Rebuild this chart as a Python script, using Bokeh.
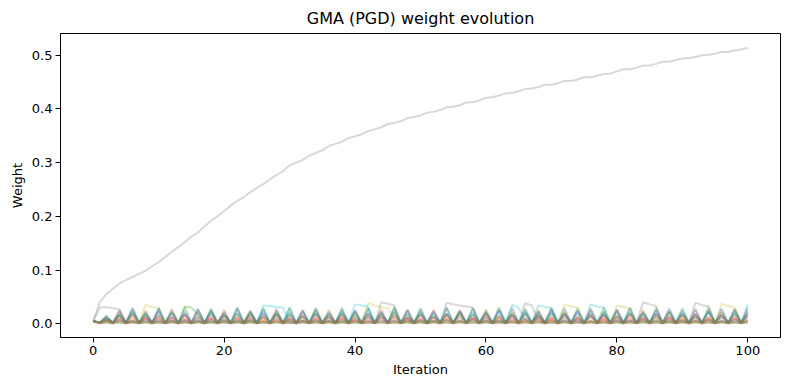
from bokeh.plotting import figure
from bokeh.models import FixedTicker, NumeralTickFormatter, Range1d
from bokeh.embed import file_html
from bokeh.resources import INLINE

iterations = list(range(101))

# climbing asset (gray)
w_gray_main = [
    .005, .040, .055, .065, .075, .081, .087, .093, .099, .107,
    .115, .124, .134, .143, .152, .162, .170, .181, .192, .200,
    .210, .220, .229, .236, .245, .253, .260, .269, .277, .284,
    .295, .300, .305, .313, .318, .323, .331, .335, .339, .346,
    .349, .353, .359, .362, .366, .372, .374, .377, .383, .385,
    .388, .393, .395, .398, .403, .404, .407, .412, .413, .416,
    .421, .422, .425, .429, .430, .433, .437, .438, .441, .445,
    .445, .448, .452, .452, .455, .459, .459, .462, .465, .466,
    .470, .474, .474, .477, .481, .481, .484, .488, .488, .491,
    .494, .495, .497, .500, .501, .503, .506, .506, .509, .511,
    .514]

w_blue = [
    .005, .002, .012, .002, .020, .002, .021, .002, .019, .002,
    .022, .002, .020, .002, .018, .002, .021, .002, .023, .002,
    .020, .002, .019, .002, .022, .002, .020, .002, .018, .002,
    .021, .002, .023, .002, .019, .002, .020, .002, .022, .002,
    .018, .002, .021, .002, .020, .002, .023, .002, .019, .002,
    .021, .002, .020, .002, .018, .002, .022, .002, .021, .002,
    .019, .002, .023, .002, .020, .002, .018, .002, .022, .002,
    .021, .002, .019, .002, .020, .002, .023, .002, .018, .002,
    .022, .002, .020, .002, .021, .002, .019, .002, .023, .002,
    .020, .002, .018, .002, .022, .002, .021, .002, .019, .002,
    .022]

w_orange = [
    .005, .001, .010, .001, .026, .001, .012, .001, .024, .001,
    .011, .001, .027, .001, .013, .001, .025, .001, .010, .001,
    .026, .001, .012, .001, .024, .001, .011, .001, .027, .001,
    .013, .001, .025, .001, .010, .001, .026, .001, .012, .001,
    .024, .001, .011, .001, .027, .001, .013, .001, .025, .001,
    .010, .001, .026, .001, .012, .001, .024, .001, .011, .001,
    .027, .001, .013, .001, .025, .001, .010, .001, .026, .001,
    .012, .001, .024, .001, .011, .001, .027, .001, .013, .001,
    .025, .001, .010, .001, .026, .001, .012, .001, .024, .001,
    .011, .001, .027, .001, .013, .001, .025, .001, .010, .001,
    .026]

w_green = [
    .005, .002, .015, .002, .014, .002, .030, .002, .013, .002,
    .029, .002, .012, .002, .031, .002, .014, .002, .028, .002,
    .013, .002, .030, .002, .012, .002, .029, .002, .014, .002,
    .031, .002, .013, .002, .028, .002, .012, .002, .030, .002,
    .014, .002, .029, .002, .013, .002, .031, .002, .012, .002,
    .028, .002, .014, .002, .030, .002, .013, .002, .029, .002,
    .012, .002, .031, .002, .014, .002, .028, .002, .013, .002,
    .030, .002, .012, .002, .029, .002, .014, .002, .031, .002,
    .013, .002, .028, .002, .012, .002, .030, .002, .014, .002,
    .029, .002, .013, .002, .031, .002, .012, .002, .028, .002,
    .014]

w_red = [
    .005, .001, .008, .001, .015, .001, .017, .001, .011, .001,
    .016, .001, .012, .001, .018, .001, .010, .001, .015, .001,
    .017, .001, .011, .001, .016, .001, .013, .001, .018, .001,
    .010, .001, .015, .001, .017, .001, .012, .001, .016, .001,
    .011, .001, .018, .001, .014, .001, .015, .001, .010, .001,
    .017, .001, .012, .001, .016, .001, .018, .001, .011, .001,
    .015, .001, .013, .001, .017, .001, .010, .001, .016, .001,
    .012, .001, .018, .001, .011, .001, .015, .001, .017, .001,
    .013, .001, .016, .001, .010, .001, .018, .001, .012, .001,
    .015, .001, .017, .001, .011, .001, .016, .001, .014, .001,
    .018]

w_purple = [
    .005, .002, .010, .002, .018, .002, .025, .002, .016, .002,
    .024, .002, .019, .002, .017, .002, .026, .002, .020, .002,
    .016, .002, .025, .002, .018, .002, .021, .002, .026, .002,
    .017, .002, .020, .002, .024, .002, .016, .002, .019, .002,
    .025, .002, .017, .002, .021, .002, .018, .002, .026, .002,
    .016, .002, .024, .002, .019, .002, .025, .002, .017, .002,
    .020, .002, .026, .002, .016, .002, .021, .002, .018, .002,
    .025, .002, .017, .002, .024, .002, .019, .002, .016, .002,
    .026, .002, .020, .002, .018, .002, .025, .002, .021, .002,
    .017, .002, .019, .002, .026, .002, .016, .002, .024, .002,
    .020]

w_pink = [
    .005, .001, .007, .001, .010, .001, .008, .001, .012, .001,
    .009, .001, .011, .001, .007, .001, .012, .001, .010, .001,
    .008, .001, .011, .001, .009, .001, .012, .001, .007, .001,
    .010, .001, .008, .001, .012, .001, .009, .001, .011, .001,
    .007, .001, .010, .001, .012, .001, .008, .001, .011, .001,
    .009, .001, .012, .001, .007, .001, .010, .001, .008, .001,
    .011, .001, .009, .001, .012, .001, .007, .001, .010, .001,
    .008, .001, .011, .001, .009, .001, .012, .001, .007, .001,
    .010, .001, .008, .001, .011, .001, .009, .001, .012, .001,
    .007, .001, .010, .001, .008, .001, .011, .001, .009, .001,
    .012]

w_olive = [
    .005, .002, .006, .002, .007, .002, .006, .002, .035, .031,
    .029, .002, .006, .002, .007, .002, .006, .002, .007, .002,
    .006, .002, .007, .002, .006, .002, .007, .002, .006, .002,
    .007, .002, .006, .002, .007, .002, .006, .002, .007, .002,
    .006, .002, .038, .034, .031, .029, .007, .002, .006, .002,
    .007, .002, .006, .002, .007, .002, .006, .002, .007, .002,
    .006, .002, .007, .002, .006, .002, .007, .002, .006, .002,
    .007, .002, .036, .032, .030, .002, .006, .002, .007, .002,
    .034, .031, .029, .002, .006, .002, .007, .002, .006, .002,
    .007, .002, .006, .002, .007, .002, .037, .033, .030, .002,
    .006]

w_cyan = [
    .005, .002, .005, .002, .006, .002, .005, .002, .006, .002,
    .005, .002, .006, .002, .005, .002, .006, .002, .005, .002,
    .006, .002, .005, .002, .006, .002, .034, .033, .031, .030,
    .002, .002, .005, .002, .006, .002, .005, .002, .006, .002,
    .036, .034, .032, .002, .005, .002, .006, .002, .005, .002,
    .006, .002, .005, .002, .006, .002, .005, .002, .006, .002,
    .005, .002, .006, .002, .035, .030, .006, .002, .034, .031,
    .029, .002, .006, .002, .005, .002, .036, .032, .030, .002,
    .005, .002, .006, .002, .005, .002, .006, .002, .005, .002,
    .006, .002, .005, .002, .006, .002, .005, .002, .006, .002,
    .036]

w_blue2 = [
    .005, .002, .014, .002, .024, .002, .027, .002, .022, .002,
    .029, .002, .025, .002, .023, .002, .028, .002, .026, .002,
    .022, .002, .030, .002, .024, .002, .027, .002, .023, .002,
    .028, .002, .025, .002, .029, .002, .022, .002, .026, .002,
    .024, .002, .028, .002, .023, .002, .030, .002, .025, .002,
    .027, .002, .022, .002, .029, .002, .024, .002, .028, .002,
    .023, .002, .026, .002, .030, .002, .025, .002, .022, .002,
    .027, .002, .029, .002, .024, .002, .028, .002, .023, .002,
    .026, .002, .030, .002, .022, .002, .025, .002, .029, .002,
    .024, .002, .027, .002, .023, .002, .028, .002, .026, .002,
    .030]

w_green2 = [
    .005, .001, .009, .001, .016, .001, .020, .001, .018, .001,
    .014, .001, .021, .001, .032, .030, .017, .001, .022, .001,
    .015, .001, .019, .001, .021, .001, .016, .001, .020, .001,
    .018, .001, .014, .001, .022, .001, .017, .001, .019, .001,
    .021, .001, .015, .001, .018, .001, .022, .001, .016, .001,
    .020, .001, .014, .001, .019, .001, .021, .001, .017, .001,
    .022, .001, .016, .001, .018, .001, .020, .001, .015, .001,
    .019, .001, .021, .001, .014, .001, .017, .001, .022, .001,
    .016, .001, .020, .001, .018, .001, .015, .001, .021, .001,
    .019, .001, .014, .001, .022, .001, .017, .001, .020, .001,
    .016]

w_red2 = [
    .005, .001, .006, .001, .008, .001, .005, .001, .009, .001,
    .007, .001, .006, .001, .008, .001, .005, .001, .009, .001,
    .007, .001, .006, .001, .008, .001, .005, .001, .009, .001,
    .007, .001, .006, .001, .008, .001, .005, .001, .009, .001,
    .007, .001, .006, .001, .008, .001, .005, .001, .009, .001,
    .007, .001, .006, .001, .008, .001, .005, .001, .009, .001,
    .007, .001, .006, .001, .008, .001, .005, .001, .009, .001,
    .007, .001, .006, .001, .008, .001, .005, .001, .009, .001,
    .007, .001, .006, .001, .008, .001, .005, .001, .009, .001,
    .007, .001, .006, .001, .008, .001, .005, .001, .009, .001,
    .007]

w_gray2 = [
    .005, .030, .031, .029, .027, .001, .004, .001, .004, .001,
    .004, .001, .004, .001, .004, .001, .004, .001, .004, .001,
    .004, .001, .004, .001, .004, .001, .004, .001, .004, .001,
    .004, .001, .004, .001, .004, .001, .004, .001, .004, .001,
    .004, .001, .004, .001, .040, .037, .034, .001, .004, .001,
    .004, .001, .004, .001, .039, .036, .034, .032, .030, .001,
    .004, .001, .004, .001, .004, .001, .038, .034, .004, .001,
    .004, .001, .004, .001, .004, .001, .004, .001, .004, .001,
    .004, .001, .004, .001, .040, .036, .033, .001, .004, .001,
    .004, .001, .039, .035, .032, .001, .004, .001, .004, .001,
    .004]

# near-zero assets forming the dark band at the bottom
w_brown_low = [
    .005, .001, .003, .001, .004, .001, .003, .001, .004, .001,
    .003, .001, .004, .001, .003, .001, .004, .001, .003, .001,
    .004, .001, .003, .001, .004, .001, .003, .001, .004, .001,
    .003, .001, .004, .001, .003, .001, .004, .001, .003, .001,
    .004, .001, .003, .001, .004, .001, .003, .001, .004, .001,
    .003, .001, .004, .001, .003, .001, .004, .001, .003, .001,
    .004, .001, .003, .001, .004, .001, .003, .001, .004, .001,
    .003, .001, .004, .001, .003, .001, .004, .001, .003, .001,
    .004, .001, .003, .001, .004, .001, .003, .001, .004, .001,
    .003, .001, .004, .001, .003, .001, .004, .001, .003, .001,
    .004]

w_olive_low = [
    .005, .001, .003, .001, .003, .001, .003, .001, .003, .001,
    .003, .001, .003, .001, .003, .001, .003, .001, .003, .001,
    .003, .001, .003, .001, .003, .001, .003, .001, .003, .001,
    .003, .001, .003, .001, .003, .001, .003, .001, .003, .001,
    .003, .001, .003, .001, .003, .001, .003, .001, .003, .001,
    .003, .001, .003, .001, .003, .001, .003, .001, .003, .001,
    .003, .001, .003, .001, .003, .001, .003, .001, .003, .001,
    .003, .001, .003, .001, .003, .001, .003, .001, .003, .001,
    .003, .001, .003, .001, .003, .001, .003, .001, .003, .001,
    .003, .001, .003, .001, .003, .001, .003, .001, .003, .001,
    .003]

w_gray_low = [
    .005, .001, .002, .001, .002, .001, .002, .001, .002, .001,
    .002, .001, .002, .001, .002, .001, .002, .001, .002, .001,
    .002, .001, .002, .001, .002, .001, .002, .001, .002, .001,
    .002, .001, .002, .001, .002, .001, .002, .001, .002, .001,
    .002, .001, .002, .001, .002, .001, .002, .001, .002, .001,
    .002, .001, .002, .001, .002, .001, .002, .001, .002, .001,
    .002, .001, .002, .001, .002, .001, .002, .001, .002, .001,
    .002, .001, .002, .001, .002, .001, .002, .001, .002, .001,
    .002, .001, .002, .001, .002, .001, .002, .001, .002, .001,
    .002, .001, .002, .001, .002, .001, .002, .001, .002, .001,
    .002]

series = [
    (w_blue, "#1f77b4"), (w_orange, "#ff7f0e"), (w_green, "#2ca02c"),
    (w_red, "#d62728"), (w_purple, "#9467bd"), (w_pink, "#e377c2"),
    (w_gray_main, "#7f7f7f"), (w_olive, "#bcbd22"), (w_cyan, "#17becf"),
    (w_blue2, "#1f77b4"), (w_green2, "#2ca02c"), (w_red2, "#d62728"),
    (w_gray2, "#7f7f7f"), (w_brown_low, "#8c564b"),
    (w_olive_low, "#bcbd22"), (w_gray_low, "#7f7f7f"),
]

x_ticks = [0, 20, 40, 60, 80, 100]
y_ticks = [0.0, 0.1, 0.2, 0.3, 0.4, 0.5]

p = figure(frame_width=720, frame_height=304, output_backend="svg",
           toolbar_location=None,
           x_range=Range1d(-5, 105), y_range=Range1d(-0.0257, 0.5406),
           min_border_left=60, min_border_right=2, min_border_top=10,
           min_border_bottom=40, title="GMA (PGD) weight evolution")

for ys, c in series:
    p.line(iterations, ys, line_color=c, line_alpha=0.3, line_width=2)

p.xgrid.visible = False
p.ygrid.visible = False
p.outline_line_color = "black"
p.outline_line_alpha = 1
p.outline_line_width = 1
p.background_fill_color = "white"
p.border_fill_color = "white"

p.title.align = "center"
p.title.text_font = "DejaVu Sans"
p.title.text_font_size = "16px"
p.title.text_font_style = "normal"
p.title.text_color = "black"
p.title.standoff = 12

p.xaxis.ticker = FixedTicker(ticks=x_ticks)
p.yaxis.ticker = FixedTicker(ticks=y_ticks)
p.yaxis.formatter = NumeralTickFormatter(format="0.0")
p.xaxis.axis_label = "Iteration"
p.yaxis.axis_label = "Weight"
for ax in p.axis:
    ax.minor_tick_line_color = None
    ax.major_tick_in = 0
    ax.major_tick_out = 5
    ax.major_tick_line_color = "black"
    ax.axis_line_color = "black"
    ax.major_label_text_font = "DejaVu Sans"
    ax.major_label_text_font_size = "13px"
    ax.major_label_text_color = "black"
    ax.axis_label_text_font = "DejaVu Sans"
    ax.axis_label_text_font_size = "13px"
    ax.axis_label_text_font_style = "normal"
    ax.axis_label_text_color = "black"
    ax.major_label_standoff = 3
    ax.axis_label_standoff = 4

open("out.html", "w").write(file_html(p, INLINE))
